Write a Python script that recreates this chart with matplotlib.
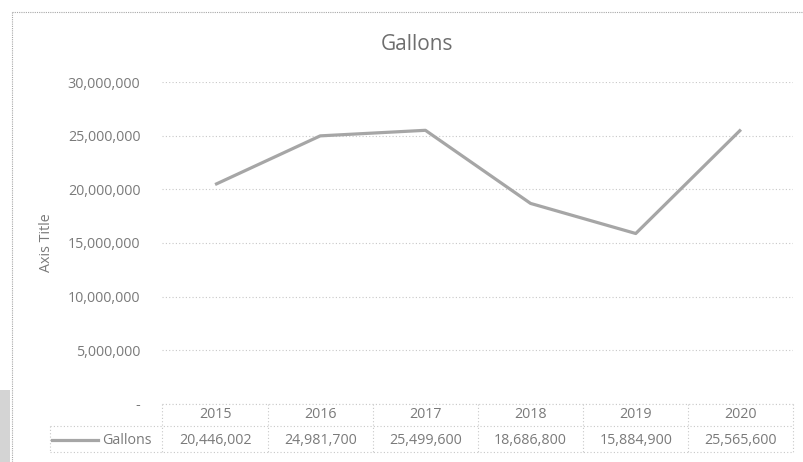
import matplotlib.pyplot as plt
from matplotlib.lines import Line2D
from matplotlib.patches import Rectangle

years = ["2015", "2016", "2017", "2018", "2019", "2020"]
gallons = [20446002, 24981700, 25499600, 18686800, 15884900, 25565600]
y_ticks = [0, 5000000, 10000000, 15000000, 20000000, 25000000, 30000000]
y_tick_labels = ["-", "5,000,000", "10,000,000", "15,000,000",
                 "20,000,000", "25,000,000", "30,000,000"]

W, H = 804, 462
TEXT = "#7a7a7a"
GRID = "#c8c8c8"
LINE = "#a6a6a6"
FS = 10.3

plt.rcParams["font.family"] = ["Open Sans", "DejaVu Sans"]

fig = plt.figure(figsize=(W / 100, H / 100), dpi=100)


def fx(px):
    return px / W


def fy(py):
    return 1 - py / H


# plot area in pixels
left, right, top, bottom = 162.5, 793.5, 82, 404
ax = fig.add_axes([fx(left), fy(bottom), fx(right) - fx(left), fy(top) - fy(bottom)])

x = list(range(len(years)))
ax.plot(x, gallons, color=LINE, linewidth=2.3, solid_capstyle="butt")
ax.set_xlim(-0.5, len(years) - 0.5)
ax.set_ylim(0, 30000000)
ax.set_yticks(y_ticks)
ax.set_yticklabels(y_tick_labels, fontsize=FS, color=TEXT)
ax.tick_params(axis="y", length=0, pad=16)
ax.set_xticks([])
ax.grid(axis="y", color=GRID, linestyle=(0, (1, 2)), linewidth=0.8)
for s in ax.spines.values():
    s.set_visible(False)
ax.set_ylabel("Axis Title", fontsize=10.3, color=TEXT, labelpad=10)

fig.text(fx(417), fy(45), "Gallons", ha="center", va="center",
         fontsize=15, color="#6e6e6e")

# data table under the plot
col_w = (right - left) / len(years)
r0, r1, r2 = 404, 426, 452
tbl_left = 50
dot = dict(color=GRID, linestyle=(0, (1, 2)), linewidth=0.8)


def hline(x0, x1, py):
    fig.add_artist(Line2D([fx(x0), fx(x1)], [fy(py), fy(py)], **dot))


def vline(px, y0, y1):
    fig.add_artist(Line2D([fx(px), fx(px)], [fy(y0), fy(y1)], **dot))


hline(left, right, r0)
hline(tbl_left, right, r1)
hline(tbl_left, right, r2)
vline(tbl_left, r1, r2)
for i in range(len(years) + 1):
    vline(left + i * col_w, r0, r2)

for i, (yr, val) in enumerate(zip(years, gallons)):
    cx = left + (i + 0.5) * col_w
    fig.text(fx(cx), fy((r0 + r1) / 2), yr, ha="center", va="center",
             fontsize=FS, color=TEXT)
    fig.text(fx(cx), fy((r1 + r2) / 2 + 1), f"{val:,}", ha="center", va="center",
             fontsize=FS, color=TEXT)

fig.add_artist(Line2D([fx(52), fx(98)], [fy(440), fy(440)], color=LINE, linewidth=2.3))
fig.text(fx(102), fy(440), "Gallons", ha="left", va="center", fontsize=FS, color=TEXT)

# chart frame (top / left) and grey strip outside it
fig.add_artist(Line2D([fx(12), fx(W)], [fy(12), fy(12)], color="#a8a8a8",
                      linestyle=(0, (1, 1)), linewidth=0.8))
fig.add_artist(Line2D([fx(12), fx(12)], [fy(12), fy(H)], color="#a8a8a8",
                      linestyle=(0, (1, 1)), linewidth=0.8))
fig.add_artist(Rectangle((0, 0), fx(10), fy(390), transform=fig.transFigure,
                         facecolor="#d4d4d4", edgecolor="none"))

fig.savefig("out.png", dpi=100)
